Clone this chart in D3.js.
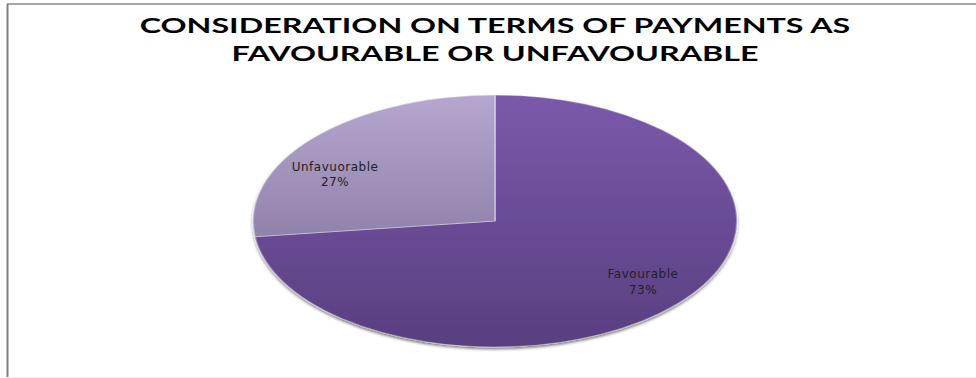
<!DOCTYPE html>
<html>
<head>
<meta charset="utf-8">
<script src="https://cdn.jsdelivr.net/npm/d3@7"></script>
<style>
  html, body { margin: 0; padding: 0; background: #fff; }
  svg { display: block; }
</style>
</head>
<body>
<svg id="chart"></svg>
<script>
var width = 976;
var height = 378;

// data
var categories = ["Favourable", "Unfavuorable"];
var shares = [73, 27];
var titleLines = ["CONSIDERATION ON TERMS OF PAYMENTS AS", "FAVOURABLE OR UNFAVOURABLE"];

var topColors = ["#7a59ab", "#b6a7d0"];
var bottomColors = ["#583f80", "#9182ab"];

// small nudges so labels sit where the original "best fit" put them
var labelNudge = [[10, -3], [-22, 16]];

var svg = d3.select("#chart")
    .attr("width", width)
    .attr("height", height);

var defs = svg.append("defs");

categories.forEach(function(c, i) {
    var g = defs.append("linearGradient")
        .attr("id", "grad" + i)
        .attr("x1", 0).attr("y1", 0)
        .attr("x2", 0).attr("y2", 1);
    g.append("stop").attr("offset", "0%").attr("stop-color", topColors[i]);
    g.append("stop").attr("offset", "100%").attr("stop-color", bottomColors[i]);
});

var shadow = defs.append("filter")
    .attr("id", "shadow")
    .attr("x", "-10%").attr("y", "-10%")
    .attr("width", "120%").attr("height", "130%");
shadow.append("feDropShadow")
    .attr("dx", 0).attr("dy", 2)
    .attr("stdDeviation", 1.6)
    .attr("flood-color", "#000")
    .attr("flood-opacity", 0.55);

// frame (only top, left and a faint bottom edge are visible)
svg.append("line")
    .attr("x1", 7).attr("x2", width).attr("y1", 4).attr("y2", 4)
    .attr("stroke", "#8a8a8a").attr("stroke-width", 1.5);
svg.append("line")
    .attr("x1", 7.5).attr("x2", 7.5).attr("y1", 4).attr("y2", 377)
    .attr("stroke", "#808080").attr("stroke-width", 2);
svg.append("line")
    .attr("x1", 9).attr("x2", width).attr("y1", 377.5).attr("y2", 377.5)
    .attr("stroke", "#ececec").attr("stroke-width", 1);

// title (the original is stretched sideways, so scale it in x)
var titleX = 495;
var title = svg.append("g");
var titleText = title.append("g")
    .attr("text-anchor", "middle")
    .style("font-family", "Lato, 'Open Sans', sans-serif")
    .style("font-weight", "bold")
    .style("font-size", "21px")
    .attr("fill", "#000");
var t1 = titleText.append("text")
    .attr("x", 0)
    .attr("y", 33)
    .text(titleLines[0]);
titleText.append("text")
    .attr("x", 0)
    .attr("y", 61)
    .text(titleLines[1]);
var sx = 711 / t1.node().getComputedTextLength();
title.attr("transform", "translate(" + titleX + ",0) scale(" + sx + ",1)");

// pie, drawn on a circle and squashed to look tilted
var cx = 495, cy = 221;
var rx = 242, ry = 126;

var pie = d3.pie().sort(null).value(function(d) { return d; });
var arcs = pie(shares);

var arc = d3.arc().innerRadius(0).outerRadius(rx);
var labelArc = d3.arc().innerRadius(rx * 0.76).outerRadius(rx * 0.76);

var pieG = svg.append("g")
    .attr("filter", "url(#shadow)");

var slices = pieG.append("g")
    .attr("transform", "translate(" + cx + "," + cy + ") scale(1," + (ry / rx) + ")");

slices.selectAll("path")
    .data(arcs)
    .enter()
    .append("path")
    .attr("d", arc)
    .attr("fill", function(d, i) { return "url(#grad" + i + ")"; })
    .attr("stroke", "rgba(255,255,255,0.35)")
    .attr("stroke-width", 2)
    .attr("stroke-linejoin", "round");

// labels
var labels = svg.append("g")
    .selectAll("text")
    .data(arcs)
    .enter()
    .append("text")
    .attr("text-anchor", "middle")
    .style("font-family", "'DejaVu Sans', sans-serif")
    .style("font-size", "12px")
    .style("letter-spacing", "0.5px")
    .attr("fill", "#222")
    .attr("transform", function(d, i) {
        var c = labelArc.centroid(d);
        return "translate(" + (cx + c[0] + labelNudge[i][0]) + "," +
            (cy + c[1] * ry / rx + labelNudge[i][1]) + ")";
    });

labels.append("tspan")
    .attr("x", 0)
    .attr("dy", "-0.25em")
    .text(function(d, i) { return categories[i]; });
labels.append("tspan")
    .attr("x", 0)
    .attr("dy", "1.3em")
    .text(function(d) { return d.data + "%"; });
</script>
</body>
</html>
